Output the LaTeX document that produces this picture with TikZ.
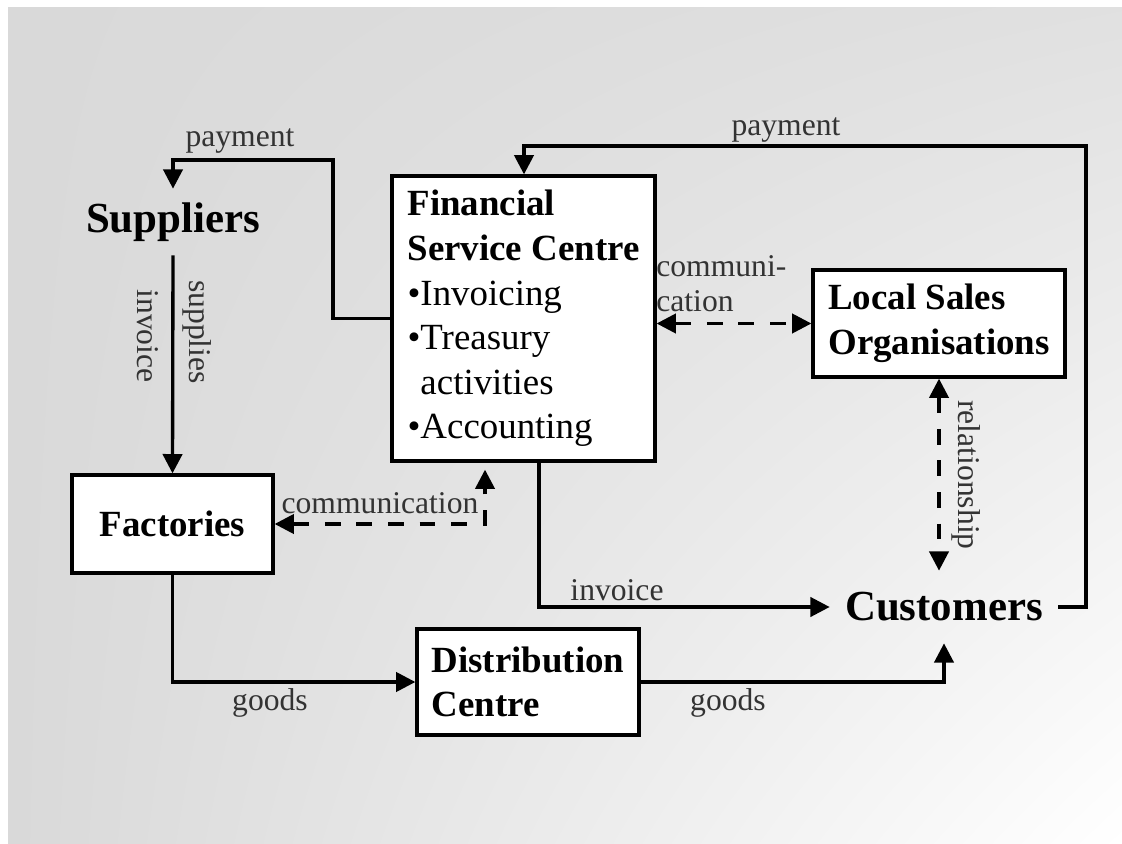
\documentclass[tikz,border=0pt]{standalone}
\usepackage{fontspec}
\setmainfont{Liberation Serif}
\usetikzlibrary{arrows.meta, shadings}
\definecolor{bgdark}{gray}{0.85}
\definecolor{bgmid}{gray}{0.88}
\definecolor{lblgray}{gray}{0.2}

\begin{document}
\begin{tikzpicture}[x=0.02cm, y=-0.02cm,
  >={Triangle[length=11pt, width=11pt]},
  box/.style = {draw, line width=1.9pt, fill=white, align=left, inner sep=0pt, font=\fontsize{21}{25.4}\selectfont},
  boldbox/.style = {box, font=\bfseries\fontsize{21}{25.4}\selectfont},
  big/.style = {inner sep=0pt, font=\bfseries\fontsize{24.4}{28}\selectfont},
  lbl/.style = {inner sep=0pt, text=lblgray, font=\fontsize{18}{20}\selectfont},
  flow/.style = {line width=1.9pt, ->},
  talk/.style = {line width=1.9pt, dash pattern=on 9pt off 9pt, <->}]

  % background
  \useasboundingbox (0,0) rectangle (1122,844);
  \shade[upper left=bgdark, lower left=bgdark, upper right=bgmid, lower right=white] (8,8) rectangle (1122,844);

  % main nodes
  \node[big, minimum height=1.32cm] (sup) at (173,222) {Suppliers};
  \node[box, minimum width=5.26cm, minimum height=5.7cm] (fsc) at (523.5,318.5)
    {\textbf{Financial}\\ \textbf{Service Centre}\\ •Invoicing\\ •Treasury\\ \phantom{•}activities\\ •Accounting};
  \node[boldbox, minimum width=5.04cm, minimum height=2.14cm] (lso) at (939,323.5) {Local Sales\\Organisations};
  \node[boldbox, minimum width=4.02cm, minimum height=1.96cm] (fac) at (172.5,524) {Factories};
  \node[boldbox, minimum width=4.44cm, minimum height=2.12cm] (dc) at (528,682) {Distribution\\Centre};
  \node[big, minimum width=4.56cm, minimum height=1.44cm] (cus) at (944,607) {Customers};

  % labels
  \node[lbl] (payS) at (240,141) {payment};
  \node[lbl] (payF) at (786,130) {payment};
  \node[lbl, rotate=-90] (invS) at (148,336) {invoice};
  \node[lbl, rotate=-90] (supS) at (197,332) {supplies};
  \node[lbl] (comF) at (380,503) {communication};
  \node[lbl, align=left, anchor=west] (comL) at (656,284) {communi-\\cation};
  \node[lbl, rotate=-90] (rel) at (966,475) {relationship};
  \node[lbl] (invC) at (617,590) {invoice};
  \node[lbl] (goodsF) at (270,703) {goods};
  \node[lbl] (goodsC) at (728,703) {goods};

  % connectors
  \draw[flow] (fsc.west) -| (333,160) -| (sup.north);
  \draw[flow] (sup.south) -- (fac.north);
  \draw[flow] (fac.south) |- (dc.west);
  \draw[flow] (dc.east) -| (cus.south);
  \draw[flow] ([xshift=0.31cm]fsc.south) |- (cus.west);
  \draw[flow] (cus.east) -| (1086,146) -| ([xshift=0.01cm]fsc.north);
  \draw[talk] (lso.west -| fsc.east) -- (lso.west);
  \draw[talk] (lso.south) -- (lso.south |- cus.north);
  \draw[talk] (fac.east) -| ([xshift=-0.77cm, yshift=-4pt]fsc.south);
\end{tikzpicture}
\end{document}
